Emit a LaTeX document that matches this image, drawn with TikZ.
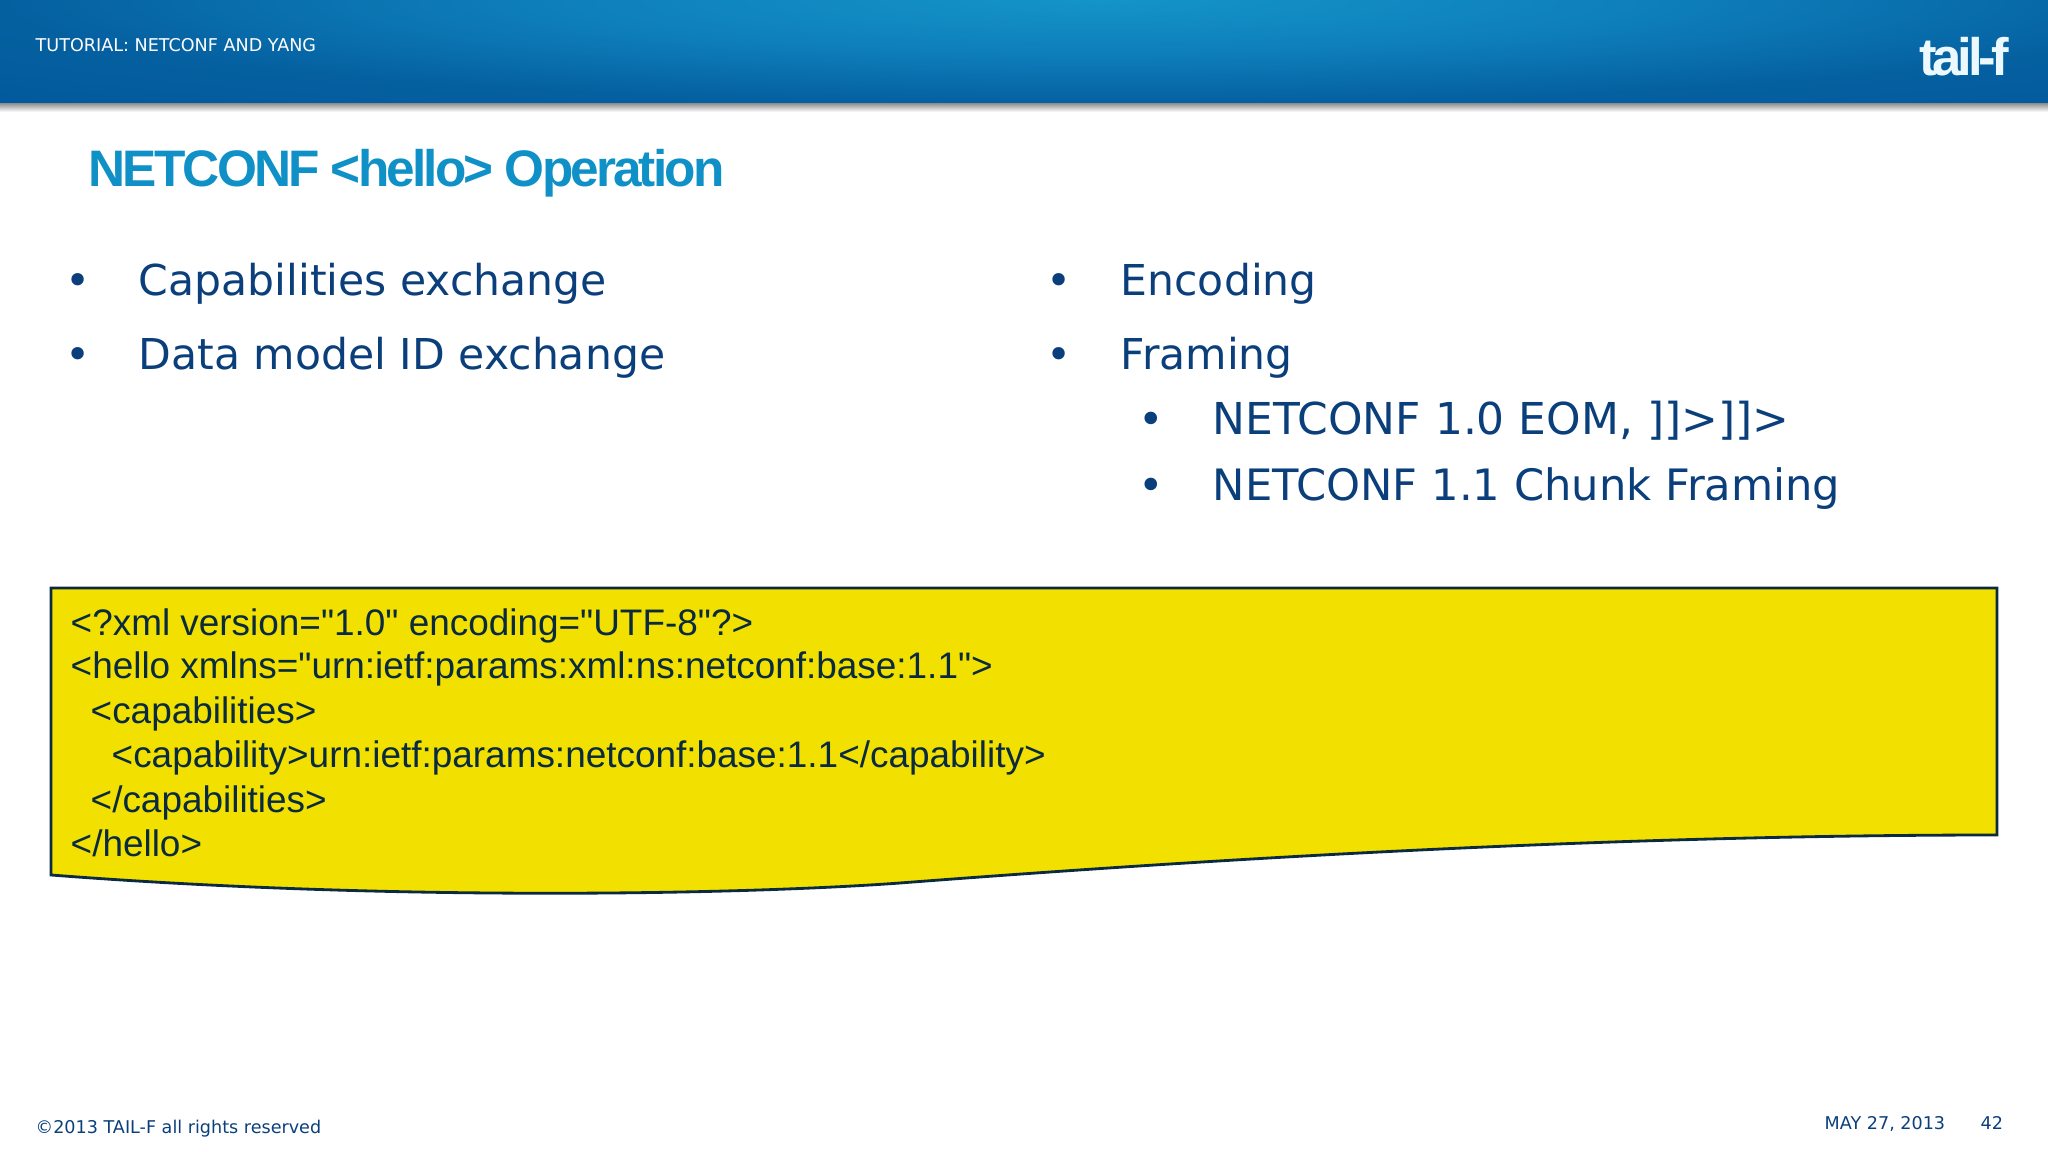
\documentclass[tikz,border=0pt]{standalone}
\usepackage{fontspec}
\setmainfont{DejaVu Sans}
\newfontfamily\arialfont{Liberation Sans}
\newfontfamily\titlefont[LetterSpace=-5.6]{Liberation Sans}
\newfontfamily\logofont[LetterSpace=-8]{Liberation Sans}
\definecolor{xnavy}{HTML}{0B3F7C}
\definecolor{xtitle}{HTML}{0F90C6}
\definecolor{xyellow}{HTML}{F1E000}
\definecolor{xink}{HTML}{0A2A40}
\definecolor{xbanner}{HTML}{0560A0}
\definecolor{xbannermid}{HTML}{0E7FBB}
\definecolor{xbannerlight}{HTML}{1494C8}
\definecolor{xbannerdark}{HTML}{00589C}
\pgfdeclareradialshading{bannerglow}{\pgfpointorigin}{
	color(0bp)=(xbannerlight); color(12.5bp)=(xbannermid); color(25bp)=(xbanner); color(37.5bp)=(xbannerdark); color(50bp)=(xbannerdark)}
\tikzset{
	bullet/.style={anchor=base west, inner sep=0pt, text=xnavy, font=\fontsize{12.1}{14}\selectfont},
	subbullet/.style={bullet, font=\fontsize{12.3}{14}\selectfont},
	codeline/.style={anchor=base west, inner sep=0pt, text=xink, font=\arialfont\fontsize{10.5}{12}\selectfont},
	footer/.style={anchor=base west, inner sep=0pt, text=xnavy, font=\fontsize{5}{6}\selectfont},
}
\begin{document}
\begin{tikzpicture}[x=0.01cm, y=-0.01cm]
	\useasboundingbox (0,0) rectangle (2048,1152);

	% banner
	\begin{scope}
		\clip (0,0) rectangle (2048,104);
		\shade[shading=bannerglow] (0,-104) rectangle (2200,104);
	\end{scope}
	\shade[top color=black!40, bottom color=white] (0,104) rectangle (2048,112);
	\node[footer, text=white] (section) at (35,52) {TUTORIAL: NETCONF AND YANG};
	\node[anchor=base east, inner sep=0pt, text=cyan!8!white, font=\logofont\bfseries\fontsize{15}{16}\selectfont] (logo) at (2010,76) {tail-f};

	% title
	\node[anchor=base west, inner sep=0pt, text=xtitle, font=\titlefont\bfseries\fontsize{14.6}{16}\selectfont] (title) at (88,187) {NETCONF <hello> Operation};

	% left column
	\node[bullet] (b1) at (65,296) {•};
	\node[bullet] (capabilities) at (138,296) {Capabilities exchange};
	\node[bullet] (b2) at (65,370) {•};
	\node[bullet] (datamodel) at (138,370) {Data model ID exchange};

	% right column
	\node[bullet] (b3) at (1046,296) {•};
	\node[bullet] (encoding) at (1120,296) {Encoding};
	\node[bullet] (b4) at (1046,370) {•};
	\node[bullet] (framing) at (1120,370) {Framing};
	\node[subbullet] (b5) at (1138,435) {•};
	\node[subbullet, font=\fontsize{12.5}{14}\selectfont] (eom) at (1212,435) {NETCONF 1.0 EOM, ]]>]]>};
	\node[subbullet] (b6) at (1138,501) {•};
	\node[subbullet] (chunk) at (1212,501) {NETCONF 1.1 Chunk Framing};

	% document shape
	\draw[line width=0.8pt, draw=xink, fill=xyellow] (51,588) -- (1997,588) -- (1997,835)
		.. controls (1600,835) and (1200,860) .. (900,883)
		.. controls (750,894) and (400,902) .. (51,875) -- cycle;
	\node[codeline] (l1) at (70,635) {<?xml version="1.0" encoding="UTF-8"?>};
	\node[codeline] (l2) at (70,679) {<hello xmlns="urn:ietf:params:xml:ns:netconf:base:1.1">};
	\node[codeline] (l3) at (90,723) {<capabilities>};
	\node[codeline] (l4) at (111,767) {<capability>urn:ietf:params:netconf:base:1.1</capability>};
	\node[codeline] (l5) at (90,812) {</capabilities>};
	\node[codeline] (l6) at (70,856) {</hello>};

	% footer
	\node[footer] (copyright) at (35,1133) {©2013 TAIL-F all rights reserved};
	\node[footer] (date) at (1824,1129) {MAY 27, 2013};
	\node[footer] (page) at (1980,1129) {42};
\end{tikzpicture}
\end{document}
